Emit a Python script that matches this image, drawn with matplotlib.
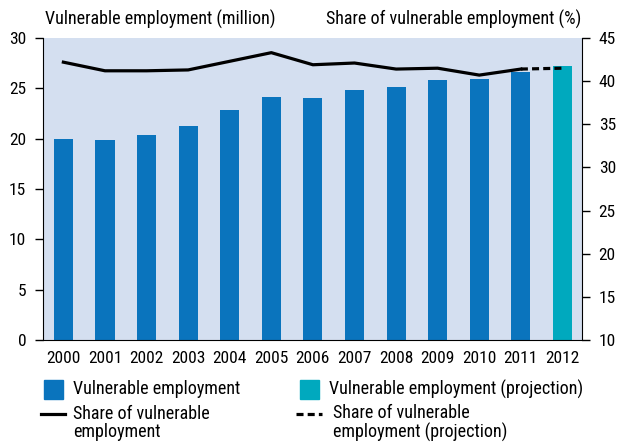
import numpy as np
import matplotlib
matplotlib.use("Agg")
import matplotlib.pyplot as plt
from matplotlib import font_manager
from matplotlib.patches import Rectangle
from matplotlib.lines import Line2D

# pick a condensed sans that is installed
installed = {f.name for f in font_manager.fontManager.ttflist}
for fam in ['Roboto Condensed', 'Liberation Sans Narrow', 'Archivo Narrow',
            'IBM Plex Sans Condensed', 'Sofia Sans Condensed', 'DejaVu Sans']:
    if fam in installed:
        break
plt.rcParams['font.family'] = [fam, 'DejaVu Sans']

years = ['2000', '2001', '2002', '2003', '2004', '2005', '2006',
         '2007', '2008', '2009', '2010', '2011', '2012']
vuln_emp = [20.0, 19.9, 20.4, 21.3, 22.8, 24.1, 24.0,
            24.8, 25.1, 25.8, 25.9, 26.6, 27.2]
share = [42.2, 41.2, 41.2, 41.3, 42.3, 43.3, 41.9,
         42.1, 41.4, 41.5, 40.7, 41.4, 41.5]
n_actual = 12  # 2012 is projection

bar_col = '#0a74bd'
proj_col = '#00a9be'
bg_col = '#d4dff0'
W, H = 623, 442


def px(x, y):
    # pixel position -> figure fraction
    return x / W, 1 - y / H


fig = plt.figure(figsize=(W/100, H/100), dpi=100)
ax = fig.add_axes([43/W, 1-340/H, (582-43)/W, (340-38)/H])
ax.set_facecolor(bg_col)
x = np.arange(len(years))
colors = [bar_col]*n_actual + [proj_col]*(len(years)-n_actual)
ax.bar(x, vuln_emp, width=0.46, color=colors, zorder=2)
ax.set_xlim(-0.49, len(years)-1+0.47)
ax.set_ylim(0, 30)
ax.set_yticks(range(0, 31, 5))
ax.set_xticks(x)
ax.set_xticklabels(years)
ax.tick_params(axis='x', length=0, labelsize=12.5, pad=8)
ax.tick_params(axis='y', length=6, width=1, labelsize=12.5, direction='out', pad=6)
for s in ['top', 'right']:
    ax.spines[s].set_visible(False)

ax2 = ax.twinx()
ax2.set_ylim(10, 45)
ax2.set_yticks(range(10, 46, 5))
ax2.tick_params(axis='y', length=6, width=1, labelsize=12.5, direction='out', pad=6)
for s in ['top', 'left', 'bottom']:
    ax2.spines[s].set_visible(False)
ax2.plot(x[:n_actual], share[:n_actual], color='black', lw=2.3, zorder=3)
ax2.plot(x[n_actual-1:], share[n_actual-1:], color='black', lw=2.3,
         ls=(0, (2.2, 1.3)), zorder=3)

fs = 13
fig.text(*px(45, 19), 'Vulnerable employment (million)', fontsize=fs,
         ha='left', va='center')
fig.text(*px(326, 19), 'Share of vulnerable employment (%)', fontsize=fs,
         ha='left', va='center')

# legend, laid out by hand
for xp, col, lab in [(44, bar_col, 'Vulnerable employment'),
                     (300, proj_col, 'Vulnerable employment (projection)')]:
    fig.add_artist(Rectangle(px(xp, 399), 19/W, 19/H, color=col,
                             transform=fig.transFigure))
    fig.text(*px(xp + 29, 389), lab, fontsize=fs, ha='left', va='center')

for x0, x1, tx, ls, lab in [(41, 65, 73, '-', 'Share of vulnerable\nemployment'),
                            (296, 322, 333, (0, (2.2, 1.3)),
                             'Share of vulnerable\nemployment (projection)')]:
    (a, b), (c, d) = px(x0, 414), px(x1, 414)
    fig.add_artist(Line2D([a, c], [b, d], color='black', lw=2.3, ls=ls,
                          transform=fig.transFigure))
    fig.text(*px(tx, 423), lab, fontsize=fs, ha='left', va='center',
             linespacing=1.05)

fig.savefig('out.png', dpi=100)
